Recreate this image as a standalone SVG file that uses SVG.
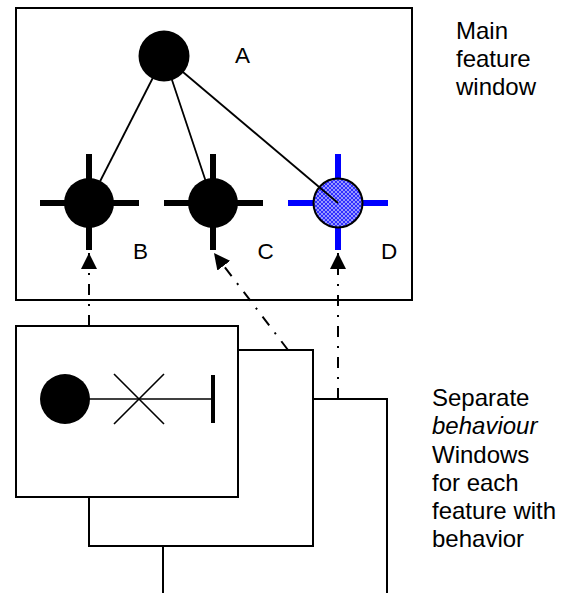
<svg xmlns="http://www.w3.org/2000/svg" width="569" height="593" viewBox="0 0 569 593">
  <style>
    .frame { fill: #fff; stroke: #000; stroke-width: 2; }
    .dot { fill: #000; }
    .arm { stroke: #000; stroke-width: 6; fill: none; }
    .arm-blue { stroke: #0000ff; stroke-width: 6; fill: none; }
    .edge { stroke: #000; stroke-width: 1.8; fill: none; }
    .link { stroke: #000; stroke-width: 2; fill: none; stroke-dasharray: 11 9 2 9; marker-end: url(#head); }
    .label { font-family: "Liberation Sans", Arial, sans-serif; font-size: 22.5px; fill: #000; }
    .note { font-family: "Liberation Sans", Arial, sans-serif; font-size: 24px; fill: #000; }
  </style>
  <defs>
    <marker id="head" viewBox="0 0 16 16" refX="16" refY="8" markerWidth="16" markerHeight="16" markerUnits="userSpaceOnUse" orient="auto">
      <path d="M0,0 L16,8 L0,16 Z" fill="#000"/>
    </marker>
    <pattern id="hatch" width="4" height="4" patternUnits="userSpaceOnUse">
      <rect width="4" height="4" fill="#2f2fff"/>
      <path d="M0,0 L4,4 M4,0 L0,4" stroke="#ffffff" stroke-width="0.6" opacity="0.85"/>
    </pattern>
  </defs>

  <!-- main feature window -->
  <rect id="main-window" class="frame" x="16" y="8" width="396" height="292"/>

  <!-- behaviour windows, back to front -->
  <rect id="behaviour-window-3" class="frame" x="163" y="399" width="224" height="250"/>
  <rect id="behaviour-window-2" class="frame" x="89" y="350" width="224" height="196"/>
  <g id="behaviour-window-1">
    <rect class="frame" x="16" y="326" width="222" height="171"/>
    <line x1="65" y1="399" x2="213" y2="399" stroke="#000" stroke-width="1.6"/>
    <circle class="dot" cx="65" cy="399" r="25"/>
    <path d="M114,374 L164,424 M114,424 L164,374" stroke="#000" stroke-width="1.6" fill="none"/>
    <line x1="213" y1="375" x2="213" y2="423" stroke="#000" stroke-width="4"/>
  </g>

  <!-- feature nodes -->
  <g id="node-A">
    <circle class="dot" cx="164" cy="56" r="25.5"/>
    <text class="label" x="235" y="63">A</text>
  </g>
  <g id="node-B">
    <path class="arm" d="M40,203 H139 M89,154 V250"/>
    <circle class="dot" cx="89" cy="203" r="25"/>
    <text class="label" x="133" y="259">B</text>
  </g>
  <g id="node-C">
    <path class="arm" d="M164,203 H263 M213,154 V250"/>
    <circle class="dot" cx="213" cy="203" r="25"/>
    <text class="label" x="257.5" y="259">C</text>
  </g>
  <g id="node-D">
    <path class="arm-blue" d="M288,203 H388 M338,154 V250"/>
    <circle cx="338" cy="203" r="24.5" fill="url(#hatch)" stroke="#000" stroke-width="2"/>
    <text class="label" x="381" y="259">D</text>
  </g>

  <!-- connectors -->
  <g id="connectors">
    <line class="edge" x1="164" y1="56" x2="89" y2="203"/>
    <line class="edge" x1="164" y1="56" x2="213" y2="203"/>
    <line class="edge" x1="164" y1="56" x2="338" y2="203"/>
    <line class="link" x1="89" y1="326" x2="89" y2="253"/>
    <line class="link" x1="288" y1="350" x2="214" y2="253"/>
    <line class="link" x1="338" y1="399" x2="338" y2="253"/>
  </g>

  <!-- captions -->
  <text class="note" x="456" y="39">Main</text>
  <text class="note" x="456" y="67">feature</text>
  <text class="note" x="456" y="95">window</text>

  <text class="note" x="432" y="406">Separate</text>
  <text class="note" x="432" y="434" font-style="italic">behaviour</text>
  <text class="note" x="432" y="463">Windows</text>
  <text class="note" x="432" y="491">for each</text>
  <text class="note" x="432" y="519">feature with</text>
  <text class="note" x="432" y="547">behavior</text>
</svg>
